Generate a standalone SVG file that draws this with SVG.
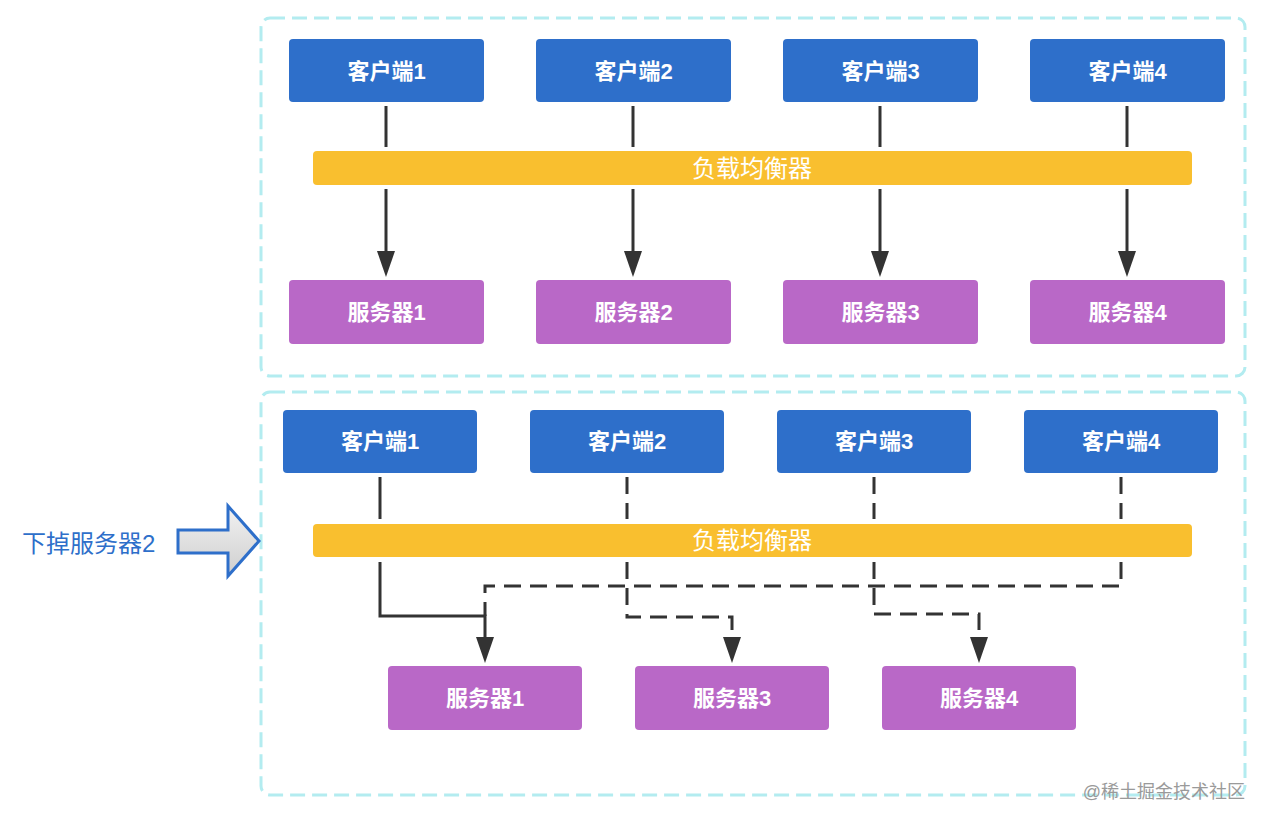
<svg xmlns="http://www.w3.org/2000/svg" width="1268" height="824" viewBox="0 0 1268 824">
<defs>
<marker id="ah" viewBox="0 0 26 18" markerWidth="26" markerHeight="18" refX="20" refY="9" orient="auto" markerUnits="userSpaceOnUse">
<path d="M0,0 L26,9 L0,18 Z" fill="#333"/>
</marker>
<linearGradient id="gg" x1="0" y1="0" x2="0" y2="1">
<stop offset="0" stop-color="#f2f2f2"/>
<stop offset="1" stop-color="#cfcfcf"/>
</linearGradient>
</defs>
<style>
.box{fill:none;stroke:#b3ecf0;stroke-width:3;stroke-dasharray:15 7}
.cli{fill:#2e6fca}
.srv{fill:#b968c7}
.lb{fill:#f9bf2f}
.t{fill:#fff;font-family:"Liberation Sans","Noto Sans CJK SC",sans-serif;font-size:22px;font-weight:700;text-anchor:middle;dominant-baseline:central}
.lt{font-size:24px;font-weight:400}
.ln{fill:none;stroke:#333;stroke-width:3}
.ds{fill:none;stroke:#333;stroke-width:3;stroke-dasharray:17 9}
</style>
<rect class="box" x="261" y="18" width="984" height="358" rx="9"/>
<rect class="box" x="261" y="392" width="984" height="403" rx="9"/>

<g id="top-c1"><rect class="cli" x="289" y="39" width="195" height="63" rx="4"/><text class="t" x="386.5" y="71">客户端1</text></g>
<g id="top-c2"><rect class="cli" x="536" y="39" width="195" height="63" rx="4"/><text class="t" x="633.5" y="71">客户端2</text></g>
<g id="top-c3"><rect class="cli" x="783" y="39" width="195" height="63" rx="4"/><text class="t" x="880.5" y="71">客户端3</text></g>
<g id="top-c4"><rect class="cli" x="1030" y="39" width="195" height="63" rx="4"/><text class="t" x="1127.5" y="71">客户端4</text></g>
<g id="top-lb"><rect class="lb" x="313" y="151" width="879" height="34" rx="4"/><text class="t lt" x="752" y="168">负载均衡器</text></g>
<g id="top-s1"><rect class="srv" x="289" y="280" width="195" height="64" rx="4"/><text class="t" x="386.5" y="312">服务器1</text></g>
<g id="top-s2"><rect class="srv" x="536" y="280" width="195" height="64" rx="4"/><text class="t" x="633.5" y="312">服务器2</text></g>
<g id="top-s3"><rect class="srv" x="783" y="280" width="195" height="64" rx="4"/><text class="t" x="880.5" y="312">服务器3</text></g>
<g id="top-s4"><rect class="srv" x="1030" y="280" width="195" height="64" rx="4"/><text class="t" x="1127.5" y="312">服务器4</text></g>

<g id="bot-c1"><rect class="cli" x="283" y="410" width="194" height="63" rx="4"/><text class="t" x="380" y="441">客户端1</text></g>
<g id="bot-c2"><rect class="cli" x="530" y="410" width="194" height="63" rx="4"/><text class="t" x="627" y="441">客户端2</text></g>
<g id="bot-c3"><rect class="cli" x="777" y="410" width="194" height="63" rx="4"/><text class="t" x="874" y="441">客户端3</text></g>
<g id="bot-c4"><rect class="cli" x="1024" y="410" width="194" height="63" rx="4"/><text class="t" x="1121" y="441">客户端4</text></g>
<g id="bot-lb"><rect class="lb" x="313" y="524" width="879" height="33" rx="4"/><text class="t lt" x="752" y="540.5">负载均衡器</text></g>
<g id="bot-s1"><rect class="srv" x="388" y="666" width="194" height="64" rx="4"/><text class="t" x="485" y="698">服务器1</text></g>
<g id="bot-s3"><rect class="srv" x="635" y="666" width="194" height="64" rx="4"/><text class="t" x="732" y="698">服务器3</text></g>
<g id="bot-s4"><rect class="srv" x="882" y="666" width="194" height="64" rx="4"/><text class="t" x="979" y="698">服务器4</text></g>

<g id="label">
<path d="M178,530 L228,530 L228,506 L259,541 L228,576 L228,553 L178,553 Z" fill="url(#gg)" stroke="#2e6fca" stroke-width="3" stroke-linejoin="miter"/>
<text x="22" y="543" font-family="'Liberation Sans','Noto Sans CJK SC',sans-serif" font-size="24" fill="#2e6fca" dominant-baseline="central">下掉服务器2</text>
</g>

<g id="connectors">
<line class="ln" x1="386" y1="106" x2="386" y2="147"/>
<line class="ln" x1="633" y1="106" x2="633" y2="147"/>
<line class="ln" x1="880" y1="106" x2="880" y2="147"/>
<line class="ln" x1="1127" y1="106" x2="1127" y2="147"/>
<line class="ln" x1="386" y1="189" x2="386" y2="271" marker-end="url(#ah)"/>
<line class="ln" x1="633" y1="189" x2="633" y2="271" marker-end="url(#ah)"/>
<line class="ln" x1="880" y1="189" x2="880" y2="271" marker-end="url(#ah)"/>
<line class="ln" x1="1127" y1="189" x2="1127" y2="271" marker-end="url(#ah)"/>

<line class="ln" x1="380" y1="477" x2="380" y2="519"/>
<line class="ds" x1="627" y1="477" x2="627" y2="519"/>
<line class="ds" x1="874" y1="477" x2="874" y2="519"/>
<line class="ds" x1="1121" y1="477" x2="1121" y2="519"/>
<polyline class="ln" points="380,562 380,616 485,616 485,657" marker-end="url(#ah)"/>
<polyline class="ds" points="1121,562 1121,586 485,586 485,616"/>
<polyline class="ds" points="627,562 627,617 732,617 732,657" marker-end="url(#ah)"/>
<polyline class="ds" points="874,562 874,614 979,614 979,657" marker-end="url(#ah)"/>
</g>

<text x="1245" y="792" text-anchor="end" font-family="'Liberation Sans','Noto Sans CJK SC',sans-serif" font-size="18" fill="#9a9a9a" dominant-baseline="central">@稀土掘金技术社区</text>
</svg>
